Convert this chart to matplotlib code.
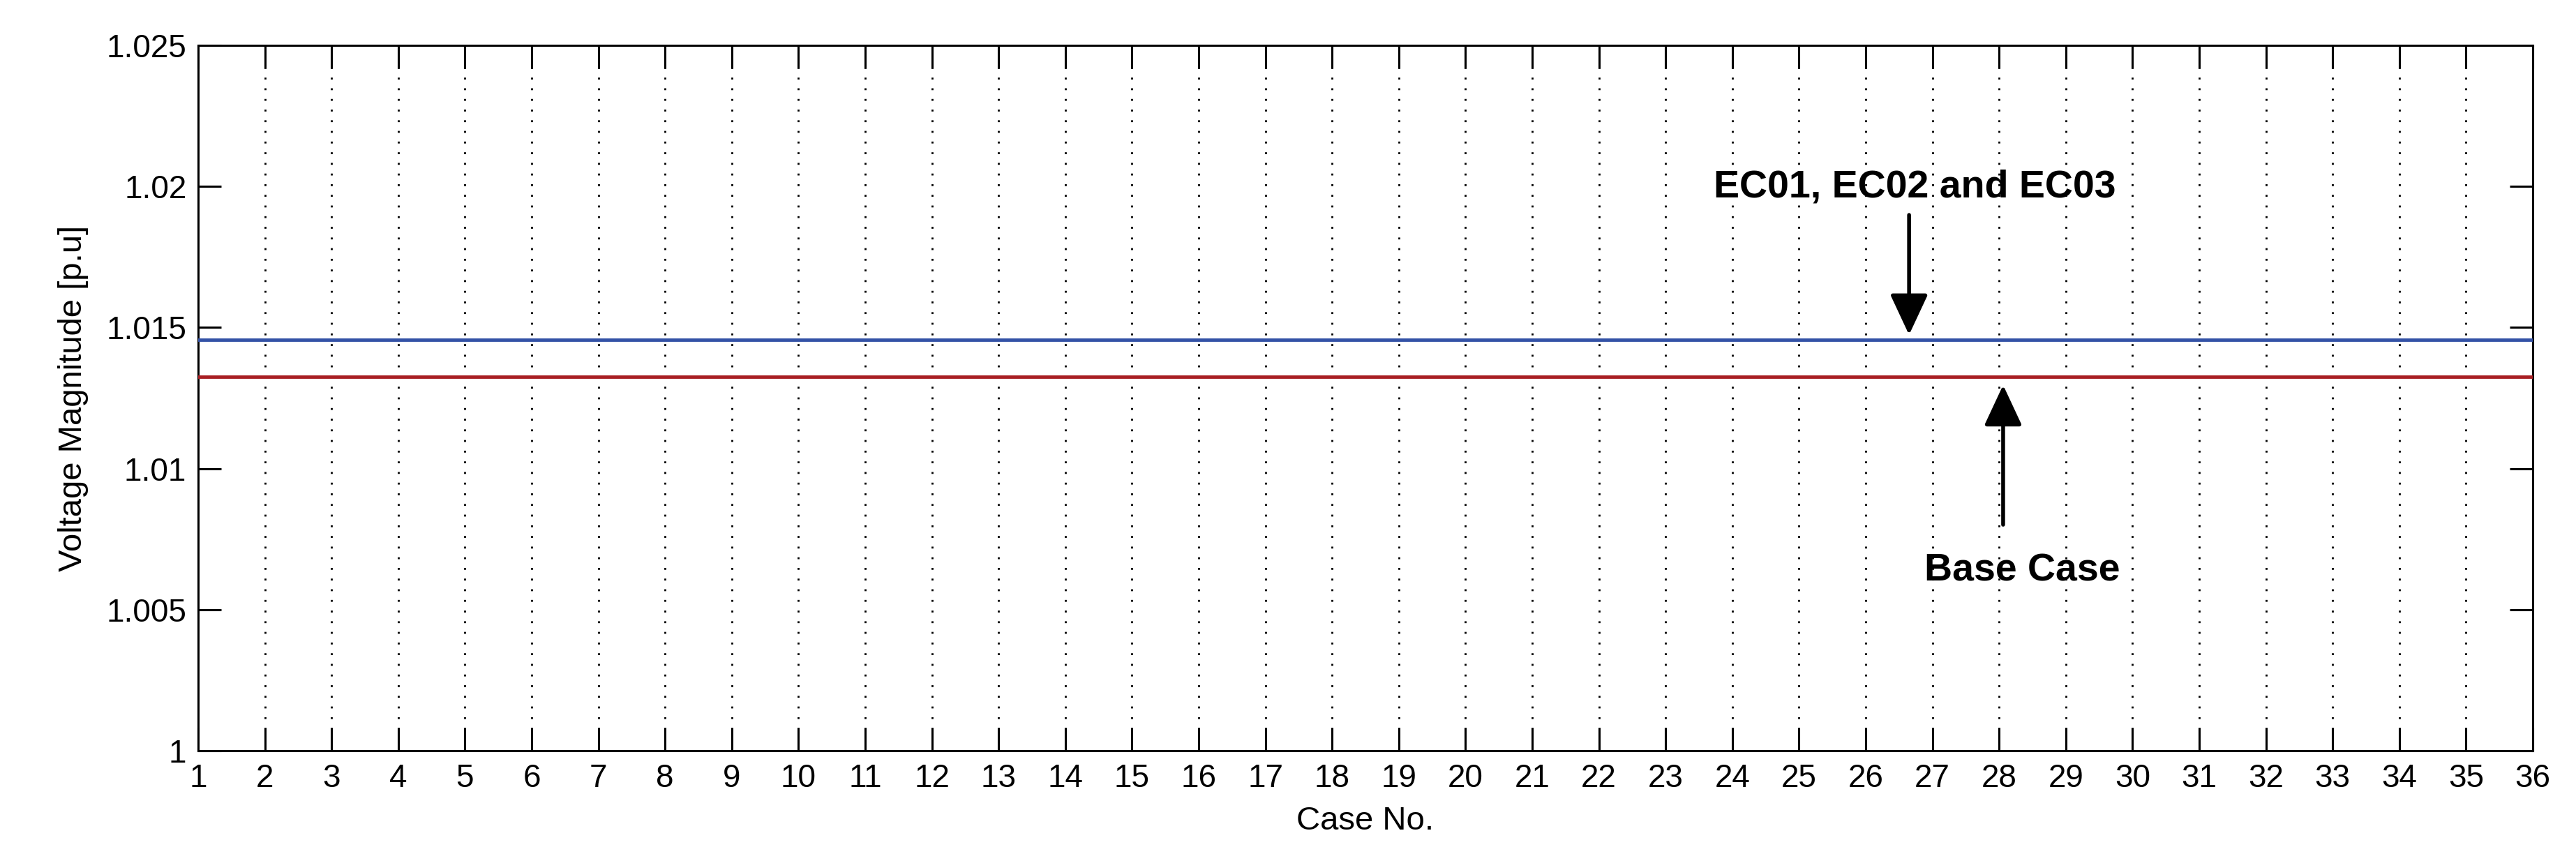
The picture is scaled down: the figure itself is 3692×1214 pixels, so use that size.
import matplotlib
matplotlib.use("Agg")
import matplotlib.pyplot as plt
import numpy as np

plt.rcParams['font.family'] = ['Liberation Sans', 'DejaVu Sans']

# ---- data ----
cases = list(range(1, 37))
ec_voltage = [1.01456] * len(cases)      # EC01, EC02 and EC03
base_voltage = [1.01325] * len(cases)    # Base Case
y_ticks = [1.0, 1.005, 1.01, 1.015, 1.02, 1.025]
y_tick_labels = ['1', '1.005', '1.01', '1.015', '1.02', '1.025']
x_label = 'Case No.'
y_label = 'Voltage Magnitude [p.u]'
ec_text = 'EC01, EC02 and EC03'
base_text = 'Base Case'
ec_text_pos = (26.74, 1.01961)
ec_arrow = ((26.65, 1.01899), (26.65, 1.01474))   # (tail, tip)
base_text_pos = (28.35, 1.00601)
base_arrow = ((28.06, 1.00801), (28.06, 1.01296))  # (tail, tip)

fig = plt.figure(figsize=(36.92, 12.14), dpi=100)
ax = fig.add_axes([284/3692, 1 - 1076/1214, (3630-284)/3692, (1076-65)/1214])

ax.plot(cases, ec_voltage, color='#3452a6', lw=3.5, zorder=3)
ax.plot(cases, base_voltage, color='#a81f24', lw=3.5, zorder=3)

ax.set_xlim(1, 36)
ax.set_ylim(1.0, 1.025)
ax.set_xticks(cases)
ax.set_xticklabels([str(c) for c in cases])
ax.set_yticks(y_ticks)
ax.set_yticklabels(y_tick_labels)

ax.grid(axis='x', color='black', linestyle=(0, (1, 4.5)), linewidth=2.0, zorder=1)
ax.set_axisbelow(True)

for s in ax.spines.values():
    s.set_linewidth(2.2)
    s.set_color('black')

ax.tick_params(axis='both', which='major', direction='in', length=24, width=2.2,
               labelsize=33, top=True, right=True, colors='black')
ax.tick_params(axis='x', pad=13)
ax.tick_params(axis='y', pad=12)

ax.set_xlabel(x_label, fontsize=34)
ax.set_ylabel(y_label, fontsize=34)
ax.xaxis.set_label_coords(0.5, -0.078)
ax.yaxis.set_label_coords(-0.0469, 0.5)

ax.text(ec_text_pos[0], ec_text_pos[1], ec_text, fontsize=40, fontweight='bold',
        ha='center', va='baseline', zorder=5)
ax.text(base_text_pos[0], base_text_pos[1], base_text, fontsize=40, fontweight='bold',
        ha='center', va='baseline', zorder=5)

arrowprops = dict(arrowstyle='-|>,head_length=1.5,head_width=0.7', mutation_scale=24,
                  color='black', lw=4, shrinkA=0, shrinkB=0)
ax.annotate('', xy=ec_arrow[1], xytext=ec_arrow[0], arrowprops=arrowprops, zorder=5)
ax.annotate('', xy=base_arrow[1], xytext=base_arrow[0], arrowprops=arrowprops, zorder=5)

fig.savefig('out.png', dpi=100, facecolor='white')
